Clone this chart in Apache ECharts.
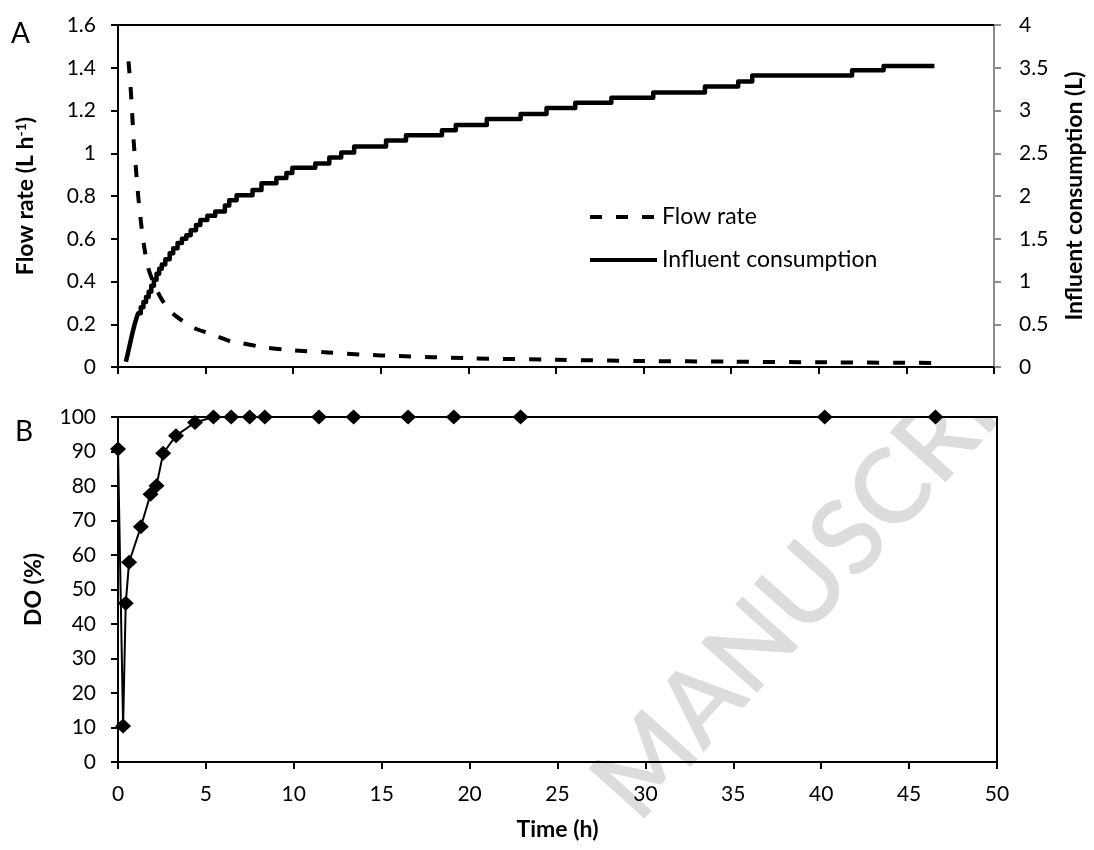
<!DOCTYPE html>
<html>
<head>
<meta charset="utf-8">
<script src="https://cdn.jsdelivr.net/npm/echarts@6/dist/echarts.min.js"></script>
<style>
html, body { margin: 0; padding: 0; background: #fff; }
#chart { width: 1094px; height: 850px; }
</style>
</head>
<body>
<div id="chart"></div>
<script>
// panel A: flow rate (L/h) vs time (h)
var flowRate = [
    [0.6, 1.43], [0.7, 1.33], [0.8, 1.2], [0.9, 1.05], [1.0, 0.95], [1.1, 0.85],
    [1.2, 0.76], [1.35, 0.65], [1.5, 0.56], [1.7, 0.47], [2.0, 0.4], [2.4, 0.33],
    [2.8, 0.28], [3.2, 0.245], [3.8, 0.21], [4.4, 0.18], [5.1, 0.16], [5.6, 0.145],
    [6.5, 0.118], [7.0, 0.112], [8.2, 0.094], [9.7, 0.08], [12, 0.068], [14, 0.058],
    [16, 0.051], [18, 0.046], [20, 0.041], [25, 0.034], [30, 0.028], [35, 0.025],
    [40, 0.022], [46.5, 0.019]
];

// panel A: cumulative influent consumption (L), start of each step
var influent = [
    [0.45, 0.06], [0.55, 0.15], [0.65, 0.24], [0.75, 0.33], [0.85, 0.42], [0.95, 0.5],
    [1.05, 0.57], [1.15, 0.63], [1.3, 0.7], [1.45, 0.76], [1.6, 0.82], [1.75, 0.88],
    [1.9, 0.95], [2.05, 1.02], [2.2, 1.09], [2.35, 1.15], [2.5, 1.2], [2.7, 1.26],
    [2.95, 1.33], [3.15, 1.39], [3.4, 1.45], [3.65, 1.5], [3.9, 1.54], [4.15, 1.6],
    [4.45, 1.66], [4.7, 1.72], [5.1, 1.77], [5.55, 1.82], [6.1, 1.89], [6.35, 1.95],
    [6.77, 2.01], [7.68, 2.07], [8.19, 2.15], [9.04, 2.21], [9.61, 2.27], [9.95, 2.33],
    [11.26, 2.38], [12.06, 2.45], [12.74, 2.51], [13.48, 2.58], [15.3, 2.65], [16.44, 2.71],
    [18.49, 2.77], [19.28, 2.83], [21.05, 2.9], [22.98, 2.96], [24.46, 3.03], [26.1, 3.09],
    [28.16, 3.15], [30.55, 3.21], [33.5, 3.28], [35.4, 3.34], [36.2, 3.41], [41.9, 3.47],
    [43.7, 3.52], [46.6, 3.52]
];

// panel B: dissolved oxygen (%)
var doTime = [0, 0.29, 0.44, 0.63, 1.3, 1.85, 2.19, 2.57, 3.3, 4.38, 5.43, 6.44, 7.49, 8.35, 11.43, 13.4, 16.5, 19.1, 22.9, 40.2, 46.5];
var doValue = [90.7, 10.4, 46, 57.9, 68.2, 77.6, 80.1, 89.5, 94.6, 98.4, 100, 100, 100, 100, 100, 100, 100, 100, 100, 100, 100];

var font = 'Lato';
var black = '#000';
var tickFont = 21;
var nameFont = 23;

var doData = doTime.map(function(t, i){ return [t, doValue[i]]; });

function borderAxis(grid, pos){
    return {
        gridIndex: grid, type: 'value', position: pos, min: 0, max: 1,
        axisLine: {show: true, onZero: false, lineStyle: {color: black, width: 2}},
        axisTick: {show: false}, axisLabel: {show: false}, splitLine: {show: false}, z: 2
    };
}

var labelStyle = {fontFamily: font, fontSize: tickFont, color: black};
var nameStyle = {fontFamily: font, fontSize: nameFont, fontWeight: 'bold', color: black};

var chart = echarts.init(document.getElementById('chart'));
var option = {
    animation: false,
    backgroundColor: '#fff',
    textStyle: {fontFamily: font},
    grid: [
        {left: 118, top: 25, width: 879, height: 342},
        {left: 118, top: 417, width: 879, height: 345}
    ],
    legend: {
        data: ['Flow rate', 'Influent consumption'],
        orient: 'vertical', left: 583, top: 200,
        itemWidth: 67, itemHeight: 24, itemGap: 19,
        lineStyle: {width: 4},
        textStyle: {fontFamily: font, fontSize: nameFont, color: black, lineHeight: 24}
    },
    xAxis: [
        {
            gridIndex: 0, type: 'value', min: 0, max: 50, interval: 5,
            axisLine: {show: true, onZero: false, lineStyle: {color: black, width: 2}},
            axisTick: {show: true, length: 7, lineStyle: {color: black, width: 2}},
            axisLabel: {show: false}, splitLine: {show: false}, z: 2
        },
        borderAxis(0, 'top'),
        {
            gridIndex: 1, type: 'value', min: 0, max: 50, interval: 5,
            name: 'Time (h)', nameLocation: 'middle', nameGap: 56, nameTextStyle: nameStyle,
            axisLine: {show: true, onZero: false, lineStyle: {color: black, width: 2}},
            axisTick: {show: true, length: 7, lineStyle: {color: black, width: 2}},
            axisLabel: Object.assign({margin: 22}, labelStyle),
            splitLine: {show: false}, z: 2
        },
        borderAxis(1, 'top')
    ],
    yAxis: [
        {
            gridIndex: 0, type: 'value', min: 0, max: 1.6, interval: 0.2, position: 'left',
            name: '{b|Flow rate (L h}{s|-1}{b|)}', nameLocation: 'middle', nameGap: 81, nameRotate: 90,
            nameTextStyle: {
                rich: {
                    b: nameStyle,
                    s: {fontFamily: font, fontSize: 14, fontWeight: 'bold', color: black, verticalAlign: 'top'}
                }
            },
            axisLine: {show: true, onZero: false, lineStyle: {color: black, width: 2}},
            axisTick: {show: true, length: 7, lineStyle: {color: black, width: 2}},
            axisLabel: Object.assign({margin: 22}, labelStyle),
            splitLine: {show: false}, z: 2
        },
        {
            gridIndex: 0, type: 'value', min: 0, max: 4, interval: 0.5, position: 'right',
            name: 'Influent consumption (L)', nameLocation: 'middle', nameGap: 69, nameRotate: 90,
            nameTextStyle: nameStyle,
            axisLine: {show: true, onZero: false, lineStyle: {color: '#8c8c8c', width: 2}},
            axisTick: {show: true, length: 7, lineStyle: {color: '#8c8c8c', width: 2}},
            axisLabel: Object.assign({margin: 25}, labelStyle),
            splitLine: {show: false}, z: 2
        },
        {
            gridIndex: 1, type: 'value', min: 0, max: 100, interval: 10, position: 'left',
            name: 'DO (%)', nameLocation: 'middle', nameGap: 73, nameRotate: 90,
            nameTextStyle: nameStyle,
            axisLine: {show: true, onZero: false, lineStyle: {color: black, width: 2}},
            axisTick: {show: true, length: 7, lineStyle: {color: black, width: 2}},
            axisLabel: Object.assign({margin: 22}, labelStyle),
            splitLine: {show: false}, z: 2
        },
        borderAxis(1, 'right')
    ],
    graphic: [
        {
            // faint "accepted manuscript" stamp behind panel B
            type: 'text', x: 838, y: 552, rotation: 0.84, z: 0, silent: true,
            style: {text: 'MANUSCRIPT', font: '600 104px Lato', fill: '#dcdcdc', align: 'center', verticalAlign: 'middle'}
        },
        {
            type: 'rect', z: 1, silent: true,
            shape: {x: 0, y: 0, width: 1094, height: 416},
            style: {fill: '#fff'}
        },
        {type: 'text', left: 11, top: 20, z: 5, style: {text: 'A', font: '28px Lato', fill: black}},
        {type: 'text', left: 15, top: 418, z: 5, style: {text: 'B', font: '28px Lato', fill: black}}
    ],
    series: [
        {
            name: 'Flow rate', type: 'line', xAxisIndex: 0, yAxisIndex: 0,
            data: flowRate, symbol: 'none', smooth: 0.3, z: 3,
            lineStyle: {color: black, width: 4, type: [12, 14], cap: 'butt'},
            itemStyle: {color: 'rgba(0,0,0,0)', borderWidth: 0}
        },
        {
            name: 'Influent consumption', type: 'line', xAxisIndex: 0, yAxisIndex: 1,
            data: influent, step: 'end', symbol: 'none', z: 3,
            lineStyle: {color: black, width: 4.5, join: 'round'},
            itemStyle: {color: 'rgba(0,0,0,0)', borderWidth: 0}
        },
        {
            name: 'DO', type: 'line', xAxisIndex: 2, yAxisIndex: 2,
            data: doData, symbol: 'diamond', symbolSize: [16, 15], z: 3,
            lineStyle: {color: black, width: 2},
            itemStyle: {color: black}
        }
    ]
};
chart.setOption(option);
</script>
</body>
</html>
